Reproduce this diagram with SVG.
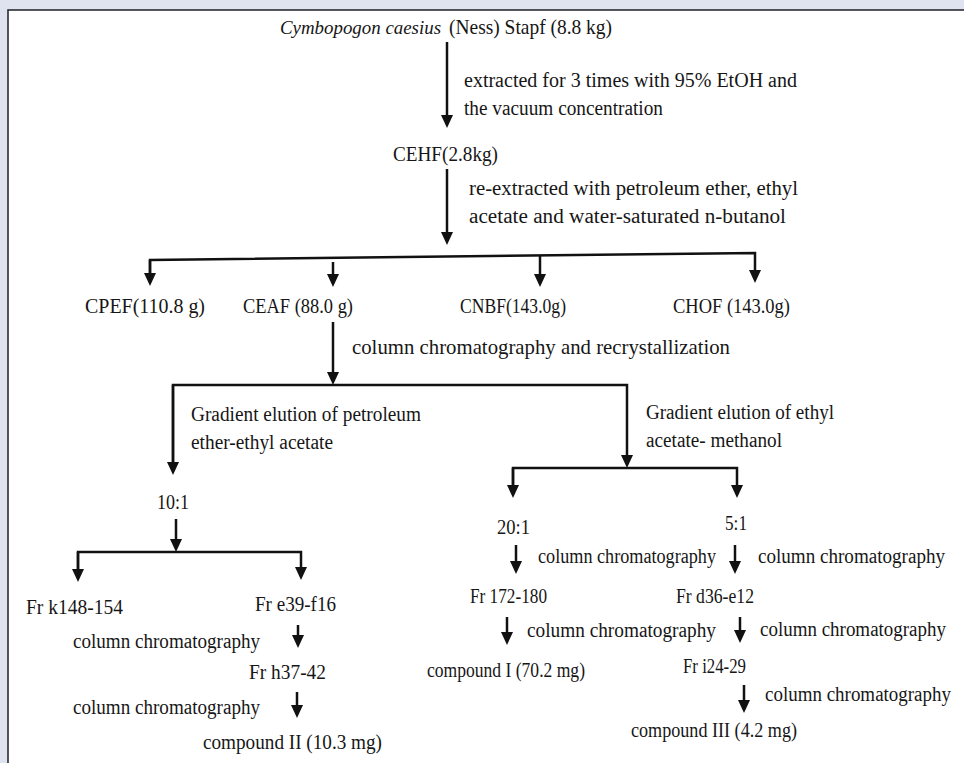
<svg xmlns="http://www.w3.org/2000/svg" width="964" height="763" viewBox="0 0 964 763">
<style>
text{font-family:"Liberation Serif","Times New Roman",serif;font-size:20px;fill:#161616}
.k{font-size:22px}
.i{font-style:italic;font-size:19px}
.c line,.c polyline{stroke:#111;stroke-width:2.5;fill:none}
.a{marker-end:url(#ah)}
</style>
<defs>
<marker id="ah" markerUnits="userSpaceOnUse" viewBox="0 0 13 12" markerWidth="13" markerHeight="12" refX="3" refY="6" orient="auto">
<path d="M0,0 L13,6 L0,12 z" fill="#111"/>
</marker>
</defs>
<rect x="0" y="0" width="964" height="763" fill="#dfe3f0"/>
<rect x="8" y="10" width="970" height="770" fill="#fff" stroke="#2b2b33" stroke-width="1.6"/>

<g class="c" id="connectors">
<line class="a" x1="447" y1="42" x2="447" y2="118"/>
<line class="a" x1="447" y1="169" x2="447" y2="235"/>
<polyline points="150,276 150,260 755,253 755,273" class="a"/>
<line class="a" x1="150" y1="260" x2="150" y2="276"/>
<line class="a" x1="333" y1="262" x2="333" y2="277"/>
<line class="a" x1="540" y1="256" x2="540" y2="277"/>
<line class="a" x1="333" y1="322" x2="333" y2="375"/>
<polyline points="173,465 173,385 627,385 627,458" class="a"/>
<line x1="173" y1="385" x2="173" y2="465" class="a"/>
<line class="a" x1="176" y1="519" x2="176" y2="542"/>
<polyline points="78,572 78,552 301,552 301,570" class="a"/>
<line class="a" x1="78" y1="552" x2="78" y2="572"/>
<line class="a" x1="298" y1="625" x2="298" y2="638"/>
<line class="a" x1="297" y1="692" x2="297" y2="708"/>
<polyline points="513,488 513,468 737,468 737,488" class="a"/>
<line class="a" x1="513" y1="468" x2="513" y2="488"/>
<line class="a" x1="516" y1="545" x2="516" y2="564"/>
<line class="a" x1="735" y1="545" x2="735" y2="564"/>
<line class="a" x1="507" y1="617" x2="507" y2="635"/>
<line class="a" x1="740" y1="617" x2="740" y2="633"/>
<line class="a" x1="744" y1="685" x2="744" y2="703"/>
</g>

<g id="n-source"><text class="i" x="280" y="34" textLength="161" lengthAdjust="spacingAndGlyphs">Cymbopogon caesius</text><text class="k" x="449" y="34" textLength="163" lengthAdjust="spacingAndGlyphs">(Ness) Stapf (8.8 kg)</text></g>
<g id="l-extract"><text x="464" y="87" textLength="333" lengthAdjust="spacingAndGlyphs">extracted for 3 times with 95% EtOH and</text><text x="464" y="115" textLength="199" lengthAdjust="spacingAndGlyphs">the vacuum concentration</text></g>
<g id="n-cehf"><text x="393" y="161" textLength="105" lengthAdjust="spacingAndGlyphs">CEHF(2.8kg)</text></g>
<g id="l-reextract"><text x="469" y="195" textLength="329" lengthAdjust="spacingAndGlyphs">re-extracted with petroleum ether, ethyl</text><text x="469" y="223" textLength="317" lengthAdjust="spacingAndGlyphs">acetate and water-saturated n-butanol</text></g>
<g id="n-cpef"><text class="k" x="85" y="313" textLength="120" lengthAdjust="spacingAndGlyphs">CPEF(110.8 g)</text></g>
<g id="n-ceaf"><text class="k" x="243" y="313" textLength="110" lengthAdjust="spacingAndGlyphs">CEAF (88.0 g)</text></g>
<g id="n-cnbf"><text class="k" x="460" y="313" textLength="106" lengthAdjust="spacingAndGlyphs">CNBF(143.0g)</text></g>
<g id="n-chof"><text class="k" x="673" y="313" textLength="117" lengthAdjust="spacingAndGlyphs">CHOF (143.0g)</text></g>
<g id="l-ccr"><text class="k" x="352" y="354" textLength="378" lengthAdjust="spacingAndGlyphs">column chromatography and recrystallization</text></g>
<g id="l-grad1"><text x="191" y="421" textLength="230" lengthAdjust="spacingAndGlyphs">Gradient elution of petroleum</text><text x="191" y="449" textLength="142" lengthAdjust="spacingAndGlyphs">ether-ethyl acetate</text></g>
<g id="l-grad2"><text x="646" y="419" textLength="188" lengthAdjust="spacingAndGlyphs">Gradient elution of ethyl</text><text x="646" y="447" textLength="136" lengthAdjust="spacingAndGlyphs">acetate- methanol</text></g>
<g id="n-10-1"><text x="157" y="509" textLength="32" lengthAdjust="spacingAndGlyphs">10:1</text></g>
<g id="n-frk"><text x="26" y="614" textLength="97" lengthAdjust="spacingAndGlyphs">Fr k148-154</text></g>
<g id="n-fre"><text x="255" y="611" textLength="81" lengthAdjust="spacingAndGlyphs">Fr e39-f16</text></g>
<g id="l-cc1"><text x="73" y="648" textLength="187" lengthAdjust="spacingAndGlyphs">column chromatography</text></g>
<g id="n-frh"><text x="249" y="679" textLength="77" lengthAdjust="spacingAndGlyphs">Fr h37-42</text></g>
<g id="l-cc2"><text x="73" y="714" textLength="187" lengthAdjust="spacingAndGlyphs">column chromatography</text></g>
<g id="n-c2"><text x="203" y="749" textLength="179" lengthAdjust="spacingAndGlyphs">compound II (10.3 mg)</text></g>
<g id="n-20-1"><text x="497" y="534" textLength="33" lengthAdjust="spacingAndGlyphs">20:1</text></g>
<g id="n-5-1"><text x="725" y="530" textLength="22" lengthAdjust="spacingAndGlyphs">5:1</text></g>
<g id="l-cc3"><text x="538" y="563" textLength="178" lengthAdjust="spacingAndGlyphs">column chromatography</text></g>
<g id="l-cc4"><text x="758" y="563" textLength="187" lengthAdjust="spacingAndGlyphs">column chromatography</text></g>
<g id="n-fr172"><text x="470" y="603" textLength="77" lengthAdjust="spacingAndGlyphs">Fr 172-180</text></g>
<g id="l-cc5"><text x="527" y="637" textLength="189" lengthAdjust="spacingAndGlyphs">column chromatography</text></g>
<g id="n-c1"><text x="427" y="677" textLength="158" lengthAdjust="spacingAndGlyphs">compound I (70.2 mg)</text></g>
<g id="n-frd"><text x="676" y="603" textLength="78" lengthAdjust="spacingAndGlyphs">Fr d36-e12</text></g>
<g id="l-cc6"><text x="760" y="636" textLength="186" lengthAdjust="spacingAndGlyphs">column chromatography</text></g>
<g id="n-fri"><text x="683" y="673" textLength="63" lengthAdjust="spacingAndGlyphs">Fr i24-29</text></g>
<g id="l-cc7"><text x="765" y="701" textLength="186" lengthAdjust="spacingAndGlyphs">column chromatography</text></g>
<g id="n-c3"><text x="631" y="737" textLength="166" lengthAdjust="spacingAndGlyphs">compound III (4.2 mg)</text></g>
</svg>
